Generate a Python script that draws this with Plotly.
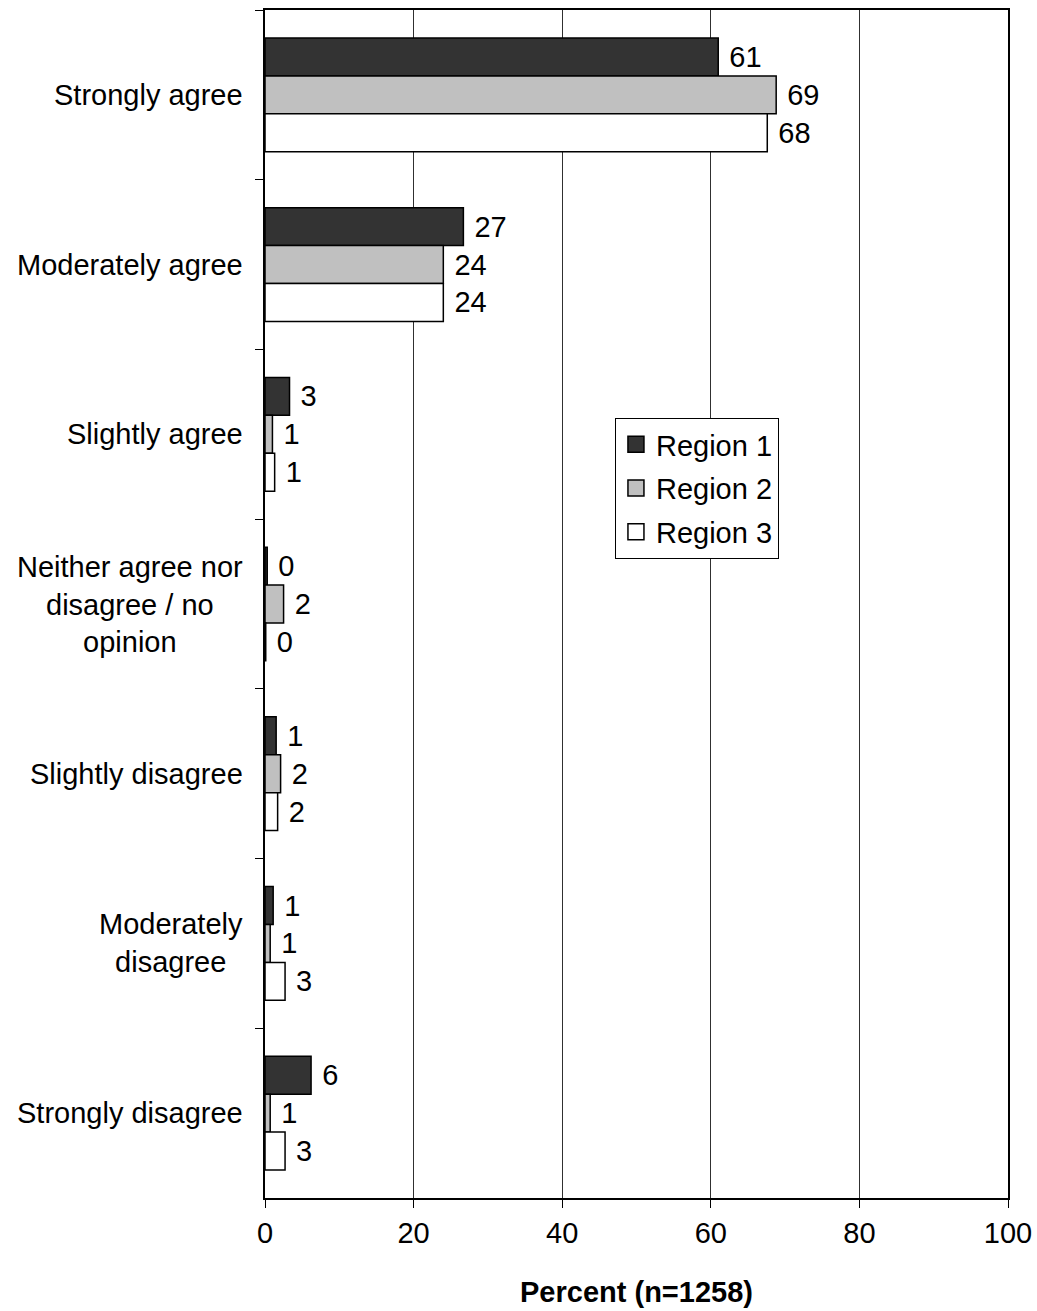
import plotly.graph_objects as go

categories = [
    "Strongly agree",
    "Moderately agree",
    "Slightly agree",
    "Neither agree nor<br>disagree / no<br>opinion",
    "Slightly disagree",
    "Moderately<br>disagree",
    "Strongly disagree",
]
region1 = [61.0, 26.7, 3.3, 0.3, 1.5, 1.1, 6.2]
region2 = [68.8, 24.0, 1.0, 2.5, 2.1, 0.7, 0.7]
region3 = [67.6, 24.0, 1.3, 0.1, 1.7, 2.7, 2.7]
labels1 = ["61", "27", "3", "0", "1", "1", "6"]
labels2 = ["69", "24", "1", "2", "2", "1", "1"]
labels3 = ["68", "24", "1", "0", "2", "3", "3"]
series_names = ["Region 1", "Region 2", "Region 3"]
colors = ["#333333", "#c0c0c0", "#ffffff"]
x_ticks = [0, 20, 40, 60, 80, 100]

FONT = "Liberation Sans, Arial, sans-serif"
FS = 29

fig = go.Figure()
for name, vals, labs, col in zip(series_names, [region1, region2, region3],
                                 [labels1, labels2, labels3], colors):
    fig.add_trace(go.Bar(
        y=categories, x=vals, name=name, orientation="h",
        marker=dict(color=col, line=dict(color="black", width=1.5)),
        text=[" " + l for l in labs], textposition="outside",
        textfont=dict(size=FS, color="black", family=FONT),
        cliponaxis=False, showlegend=False,
    ))

# legend entries (square swatches)
for name, col in zip(series_names, colors):
    fig.add_trace(go.Scatter(
        x=[None], y=[None], mode="markers", name=name, legendgroup=name,
        marker=dict(symbol="square", size=16, color=col,
                    line=dict(color="black", width=1.5)),
    ))

for c in categories:
    fig.add_annotation(
        x=0, xref="paper", y=c, yref="y", text=c, showarrow=False,
        xanchor="right", yanchor="middle", xshift=-20, align="center",
        font=dict(size=FS, color="black", family=FONT),
    )

fig.update_layout(
    width=1037, height=1311,
    margin=dict(l=265, r=29, t=10, b=113, autoexpand=False),
    paper_bgcolor="white", plot_bgcolor="white",
    font=dict(family=FONT, size=FS, color="black"),
    barmode="group", bargap=0.33, bargroupgap=0,
    legend=dict(
        x=0.471, y=0.6566, xanchor="left", yanchor="top",
        bordercolor="black", borderwidth=1, bgcolor="white",
        font=dict(size=FS, family=FONT, color="black"),
        traceorder="grouped", tracegroupgap=3,
        itemwidth=30,
    ),
    showlegend=True,
)
fig.update_xaxes(
    range=[0, 100], tickvals=x_ticks, ticktext=[str(t) for t in x_ticks],
    showgrid=True, gridcolor="#303030", gridwidth=1,
    showline=True, linecolor="black", linewidth=2, mirror=True,
    ticks="outside", ticklen=8, tickcolor="black", tickwidth=1,
    tickfont=dict(size=FS, family=FONT), ticklabeloverflow="allow",
    title=dict(text="<b>Percent (n=1258)</b>", font=dict(size=FS, family=FONT), standoff=34),
    zeroline=False, automargin=False,
)
fig.update_yaxes(
    autorange="reversed", showticklabels=False,
    showline=True, linecolor="black", linewidth=2, mirror=True,
    ticks="outside", ticklen=8, tickcolor="black", tickwidth=1,
    tickson="boundaries", showgrid=False, automargin=False,
)

fig.write_html(
    "out.html",
    config={"displayModeBar": False},
    post_script="document.body.style.margin='0';document.body.style.overflow='hidden';",
)
